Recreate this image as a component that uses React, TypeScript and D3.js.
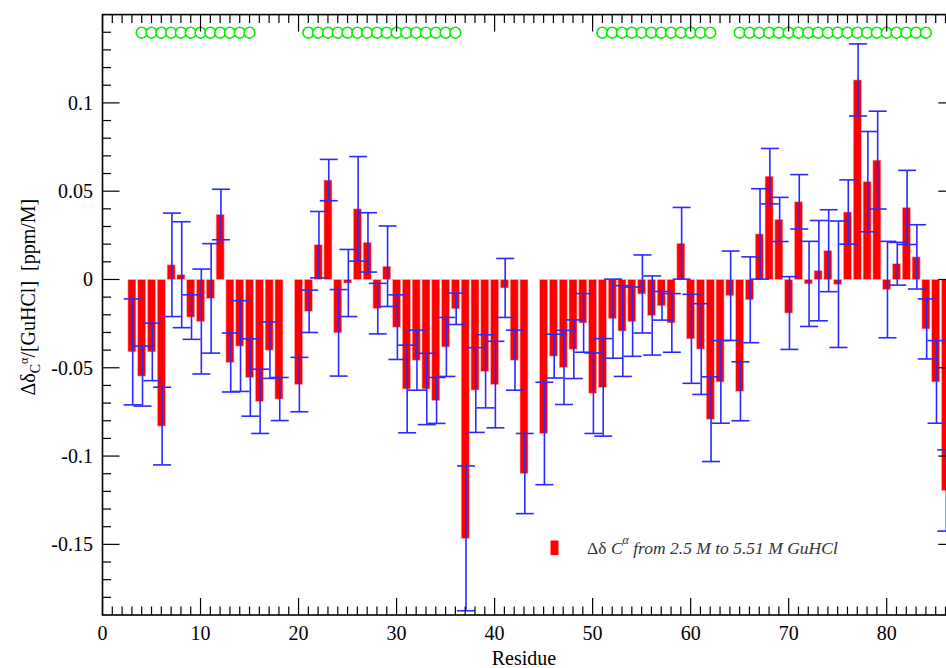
import React from "react";
import * as d3 from "d3";

const residues = [3,4,5,6,7,8,9,10,11,12,13,14,15,16,17,18,20,21,22,23,24,25,26,27,28,29,30,31,32,33,34,35,36,37,38,39,40,41,42,43,45,46,47,48,49,50,51,52,53,54,55,56,57,58,59,60,61,62,63,64,65,66,67,68,69,70,71,72,73,74,75,76,77,78,79,80,81,82,83,84,85,86];
const shifts = [-0.041,-0.0547,-0.041,-0.083,0.0083,0.0027,-0.0213,-0.0238,-0.0107,0.0368,-0.047,-0.0377,-0.0555,-0.069,-0.040,-0.0677,-0.0595,-0.018,0.0197,0.0563,-0.0302,-0.002,0.040,0.021,-0.0165,0.0075,-0.027,-0.062,-0.0457,-0.062,-0.0685,-0.0382,-0.0166,-0.1466,-0.0626,-0.052,-0.0595,-0.0048,-0.0457,-0.1099,-0.0872,-0.0434,-0.0498,-0.0395,-0.0246,-0.0644,-0.0611,-0.0222,-0.0292,-0.0239,-0.0082,-0.0204,-0.0149,-0.0246,0.0205,-0.0336,-0.0394,-0.0791,-0.058,-0.0092,-0.0633,-0.0115,0.0258,0.0585,0.034,-0.019,0.044,-0.0025,0.005,0.0163,-0.0027,0.0382,0.113,0.0554,0.0676,-0.0057,0.0089,0.0408,0.0128,-0.028,-0.058,-0.1195];
const errors = [0.030,0.017,0.0163,0.022,0.0293,0.030,0.0126,0.0297,0.031,0.0143,0.0167,0.0257,0.0219,0.0182,0.016,0.0122,0.0154,0.012,0.0188,0.0117,0.0245,0.019,0.0296,0.0168,0.0143,0.0228,0.0183,0.0248,0.017,0.0202,0.013,0.0167,0.0089,0.041,0.024,0.0207,0.0245,0.0167,0.017,0.0227,0.029,0.0124,0.021,0.0166,0.0166,0.0228,0.0276,0.0224,0.0257,0.0196,0.0221,0.0224,0.0081,0.0166,0.0203,0.0252,0.0257,0.024,0.0234,0.0253,0.0167,0.0243,0.0256,0.0157,0.0125,0.0206,0.0154,0.0241,0.0284,0.0232,0.0358,0.0182,0.0204,0.0284,0.0277,0.0273,0.0121,0.021,0.0182,0.017,0.0234,0.023];
const helixResidues = [4,5,6,7,8,9,10,11,12,13,14,15,21,22,23,24,25,26,27,28,29,30,31,32,33,34,35,36,51,52,53,54,55,56,57,58,59,60,61,62,65,66,67,68,69,70,71,72,73,74,75,76,77,78,79,80,81,82,83,84];
const xTickValues = [0,10,20,30,40,50,60,70,80];
const yTickValues = [-0.15,-0.1,-0.05,0,0.05,0.1];
const yTickLabels = ["-0.15","-0.1","-0.05","0","0.05","0.1"];
const xLabel = "Residue";
const legendText = "from 2.5 M to 5.51 M GuHCl";

const W = 946, H = 668;
const L = 102.5, R = 955.3, T = 14.6, B = 615;
const x = d3.scaleLinear().domain([0, 87]).range([L, R]);
const y = d3.scaleLinear().domain([-0.19, 0.15]).range([B, T]);
const serif = "'Liberation Serif', 'DejaVu Serif', serif";

export default function App() {
  const xMinor = d3.range(0, 88, 1);
  const yMinor = d3.range(-18, 15, 1).map((v) => v / 100);
  const MAJ = 17, MIN = 8.5;
  const barW = 8, capW = 18;
  return (
    <svg width={W} height={H} style={{ position: "absolute", left: 0, top: 0, background: "#fff" }}>
      <rect x={0} y={0} width={W} height={H} fill="#fff" />
      {/* bars */}
      {residues.map((r, i) => {
        const v = shifts[i];
        const y0 = y(0), y1 = y(v);
        return (
          <rect key={"b" + r} x={x(r) - barW / 2} y={Math.min(y0, y1)} width={barW} height={Math.abs(y1 - y0)} fill="#ff0000" stroke="#ffb0b0" strokeWidth={0.6} />
        );
      })}
      {/* error bars */}
      {residues.map((r, i) => {
        const v = shifts[i], e = errors[i];
        const cx = x(r) + 0.8;
        const yt = y(v + e), yb = y(v - e);
        return (
          <g key={"e" + r} stroke="#2a2aff" strokeWidth={1.6} fill="none">
            <line x1={cx} x2={cx} y1={yt} y2={yb} />
            <line x1={cx - capW / 2} x2={cx + capW / 2} y1={yt} y2={yt} />
            <line x1={cx - capW / 2} x2={cx + capW / 2} y1={yb} y2={yb} />
          </g>
        );
      })}
      {/* helix markers */}
      {helixResidues.map((r) => (
        <circle key={"h" + r} cx={x(r)} cy={32.7} r={5.4} fill="#fff" stroke="#00ee00" strokeWidth={1.6} />
      ))}
      {/* frame */}
      <rect x={L} y={T} width={R - L} height={B - T} fill="none" stroke="#000" strokeWidth={1.6} />
      {/* x ticks */}
      {xMinor.map((t) => {
        const len = t % 10 === 0 ? MAJ : MIN;
        const px = x(t);
        return (
          <g key={"xt" + t} stroke="#000" strokeWidth={1.2}>
            <line x1={px} x2={px} y1={B} y2={B - len} />
            <line x1={px} x2={px} y1={T} y2={T + len} />
          </g>
        );
      })}
      {/* y ticks */}
      {yMinor.map((t) => {
        const major = Math.abs(Math.round(t * 100) % 5) === 0;
        const len = major ? MAJ : MIN;
        const py = y(t);
        return (
          <g key={"yt" + t} stroke="#000" strokeWidth={1.2}>
            <line x1={L} x2={L + len} y1={py} y2={py} />
            <line x1={R} x2={R - len} y1={py} y2={py} />
          </g>
        );
      })}
      {/* x tick labels */}
      {xTickValues.map((t) => (
        <text key={"xl" + t} x={x(t)} y={640} textAnchor="middle" fontFamily={serif} fontSize={20} fill="#000">{t}</text>
      ))}
      <text x={x(43)} y={665} textAnchor="middle" fontFamily={serif} fontSize={20} fill="#000">{xLabel}</text>
      {/* y tick labels */}
      {yTickValues.map((t, i) => (
        <text key={"yl" + t} x={93} y={y(t)} dy="0.35em" textAnchor="end" fontFamily={serif} fontSize={20} fill="#000">{yTickLabels[i]}</text>
      ))}
      {/* y axis label */}
      <text transform={`translate(35, ${y(-0.01)}) rotate(-90)`} textAnchor="middle" fontFamily={serif} fontSize={20} fill="#000" style={{ whiteSpace: "pre" }}>
        <tspan>Δδ</tspan>
        <tspan fontSize={14} dy={5}>C</tspan>
        <tspan fontSize={12} dy={-12}>α</tspan>
        <tspan dy={7}>{"/[GuHCl]  [ppm/M]"}</tspan>
      </text>
      {/* legend */}
      <rect x={550.5} y={540.5} width={8} height={14.5} fill="#ff0000" />
      <text x={587} y={554} fontFamily={serif} fontSize={17.5} fill="#333" style={{ whiteSpace: "pre" }}>
        <tspan>Δδ </tspan>
        <tspan fontStyle="italic">C</tspan>
        <tspan fontStyle="italic" fontSize={12} dy={-10}>α</tspan>
        <tspan fontStyle="italic" dy={10}>{" " + legendText}</tspan>
      </text>
    </svg>
  );
}
